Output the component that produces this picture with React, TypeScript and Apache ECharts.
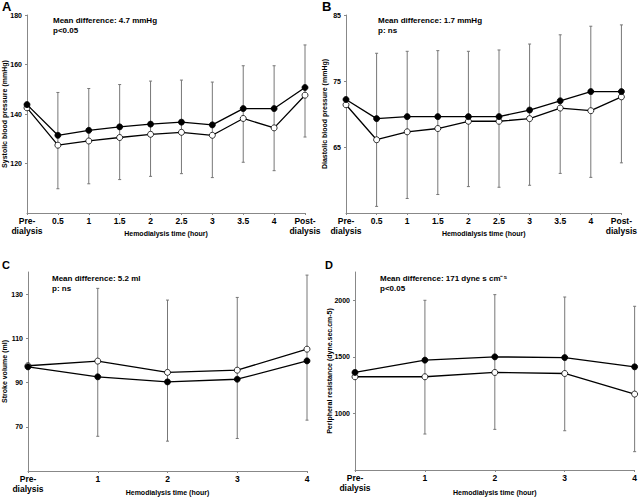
import React, { useEffect, useRef } from "react";
import * as echarts from "echarts";

const catsAB = ["Pre-\ndialysis", "0.5", "1", "1.5", "2", "2.5", "3", "3.5", "4", "Post-\ndialysis"];
const catsCD = ["Pre-\ndialysis", "1", "2", "3", "4"];

const sbpFilled = [143.8, 131.4, 133.4, 134.8, 135.9, 136.7, 135.6, 142.2, 142.2, 150.7];
const sbpOpen = [142.5, 127.4, 129.1, 130.5, 131.8, 132.6, 131.4, 138.2, 134.4, 147.6];
const sbpUpper = [null, 148.7, 150.3, 151.9, 153.3, 153.7, 152.9, 159.5, 159.5, 167.9];
const sbpLower = [null, 109.8, 111.8, 113.5, 114.8, 115.9, 114.3, 120.5, 117.1, 130.7];

const dbpFilled = [72.2, 69.3, 69.6, 69.6, 69.6, 69.6, 70.6, 72.0, 73.4, 73.4];
const dbpOpen = [71.4, 66.1, 67.3, 67.8, 68.9, 68.9, 69.3, 70.9, 70.5, 72.6];
const dbpUpper = [null, 79.2, 79.5, 79.6, 79.5, 79.7, 80.6, 82.0, 83.3, 83.5];
const dbpLower = [null, 56.0, 57.2, 57.8, 59.0, 58.9, 59.2, 61.0, 60.4, 62.6];

const svFilled = [97.1, 92.6, 90.3, 91.5, 99.8];
const svOpen = [97.6, 99.7, 94.6, 95.6, 105.1];
const svUpper = [null, 132.6, 127.3, 128.5, 138.6];
const svLower = [null, 65.7, 63.5, 64.7, 73.0];

const prFilled = [1362, 1471, 1500, 1494, 1412];
const prOpen = [1324, 1324, 1362, 1353, 1171];
const prUpper = [null, 2000, 2050, 2029, 1947];
const prLower = [null, 818, 859, 847, 662];

const FONT = "'Liberation Sans', Arial, sans-serif";

function errData(lower: (number | null)[], upper: (number | null)[]) {
  const out: number[][] = [];
  lower.forEach((lo, i) => {
    const hi = upper[i];
    if (lo != null && hi != null) out.push([i, lo, hi]);
  });
  return out;
}

function errSeries(idx: number, lower: (number | null)[], upper: (number | null)[]) {
  return {
    type: "custom",
    xAxisIndex: idx,
    yAxisIndex: idx,
    z: 1,
    encode: { x: 0, y: [1, 2] },
    data: errData(lower, upper),
    renderItem: (params: any, api: any) => {
      const x = api.value(0);
      const lo = api.coord([x, api.value(1)]);
      const hi = api.coord([x, api.value(2)]);
      const c = 1.5;
      const style = { stroke: "#777", lineWidth: 1 };
      return {
        type: "group",
        children: [
          { type: "line", shape: { x1: lo[0], y1: lo[1], x2: hi[0], y2: hi[1] }, style },
          { type: "line", shape: { x1: lo[0] - c, y1: lo[1], x2: lo[0] + c, y2: lo[1] }, style },
          { type: "line", shape: { x1: hi[0] - c, y1: hi[1], x2: hi[0] + c, y2: hi[1] }, style },
        ],
      };
    },
  };
}

function lineSeries(idx: number, data: number[], filled: boolean) {
  return {
    type: "line",
    xAxisIndex: idx,
    yAxisIndex: idx,
    data,
    z: filled ? 4 : 3,
    symbol: "circle",
    symbolSize: 6,
    showSymbol: true,
    lineStyle: { color: "#000", width: 1.3 },
    itemStyle: { color: filled ? "#000" : "#fff", borderColor: "#000", borderWidth: 0.8 },
  };
}

function xAxis(idx: number, cats: string[], gap: number) {
  return {
    type: "category",
    gridIndex: idx,
    data: cats,
    boundaryGap: false,
    name: "Hemodialysis time (hour)",
    nameLocation: "middle",
    nameGap: gap,
    nameMoveOverlap: false,
    nameTextStyle: { fontFamily: FONT, fontSize: 7, fontWeight: "bold", color: "#000" },
    axisLine: { lineStyle: { color: "#888", width: 1 } },
    axisTick: { show: true, length: 2, lineStyle: { color: "#888" } },
    axisLabel: {
      fontFamily: FONT,
      fontSize: 8.5,
      fontWeight: "bold",
      color: "#000",
      margin: 3,
      lineHeight: 10,
      interval: 0,
    },
    splitLine: { show: false },
  };
}

function yAxis(idx: number, name: string, min: number, max: number, interval: number, showMax: boolean, gap: number) {
  return {
    type: "value",
    gridIndex: idx,
    min,
    max,
    interval,
    name,
    nameLocation: "middle",
    nameGap: gap,
    nameMoveOverlap: false,
    nameTextStyle: { fontFamily: FONT, fontSize: 7, fontWeight: "bold", color: "#000" },
    axisLine: { show: true, lineStyle: { color: "#888", width: 1 } },
    axisTick: { show: true, length: 2, lineStyle: { color: "#888" } },
    axisLabel: {
      fontFamily: FONT,
      fontSize: 7,
      fontWeight: "bold",
      color: "#000",
      margin: 5,
      showMinLabel: false,
      showMaxLabel: showMax,
      formatter: (v: number) => String(v),
    },
    splitLine: { show: false },
  };
}

function txt(x: number, y: number, text: string, size: number) {
  return {
    type: "text",
    left: x,
    top: y,
    style: { text, fontFamily: FONT, fontSize: size, fontWeight: "bold", fill: "#000" },
  };
}

export default function App() {
  const ref = useRef<HTMLDivElement>(null);
  useEffect(() => {
    if (!ref.current) return;
    const chart = echarts.init(ref.current, undefined, { renderer: "svg" });
    chart.setOption({
      animation: false,
      backgroundColor: "#fff",
      grid: [
        { left: 26, top: 15, width: 279, height: 198 },
        { left: 346, top: 15, width: 285, height: 198 },
        { left: 25, top: 272, width: 282, height: 199 },
        { left: 355, top: 272, width: 280, height: 198 },
      ],
      xAxis: [xAxis(0, catsAB, 17), xAxis(1, catsAB, 17), xAxis(2, catsCD, 18), xAxis(3, catsCD, 19)],
      yAxis: [
        yAxis(0, "Systolic blood pressure (mmHg)", 100, 180, 20, true, 19),
        yAxis(1, "Diastolic blood pressure (mmHg)", 55, 85, 10, true, 18),
        yAxis(2, "Stroke volume (ml)", 50, 140, 20, false, 20),
        yAxis(3, "Peripheral resistance (dyne.sec.cm-5)", 500, 2250, 500, false, 22),
      ],
      series: [
        errSeries(0, sbpLower, sbpUpper),
        lineSeries(0, sbpOpen, false),
        lineSeries(0, sbpFilled, true),
        errSeries(1, dbpLower, dbpUpper),
        lineSeries(1, dbpOpen, false),
        lineSeries(1, dbpFilled, true),
        errSeries(2, svLower, svUpper),
        lineSeries(2, svFilled, true),
        lineSeries(2, svOpen, false),
        errSeries(3, prLower, prUpper),
        lineSeries(3, prOpen, false),
        lineSeries(3, prFilled, true),
      ],
      graphic: [
        txt(2, 0, "A", 13),
        txt(322, 0, "B", 13),
        txt(2, 259, "C", 11),
        txt(325, 259, "D", 11),
        txt(53, 16, "Mean difference: 4.7 mmHg", 8),
        txt(53, 26, "p<0.05", 8),
        txt(378, 16, "Mean difference: 1.7 mmHg", 8),
        txt(378, 26, "p: ns", 8),
        txt(52, 274, "Mean difference: 5.2 ml", 8),
        txt(52, 284, "p: ns", 8),
        txt(380, 274, "Mean difference: 171 dyne s cm\u207B\u2075", 8),
        txt(380, 284, "p<0.05", 8),
      ],
    });
    return () => chart.dispose();
  }, []);
  return (
    <div
      ref={ref}
      style={{ position: "fixed", left: 0, top: 0, width: 640, height: 498, background: "#fff" }}
    />
  );
}
